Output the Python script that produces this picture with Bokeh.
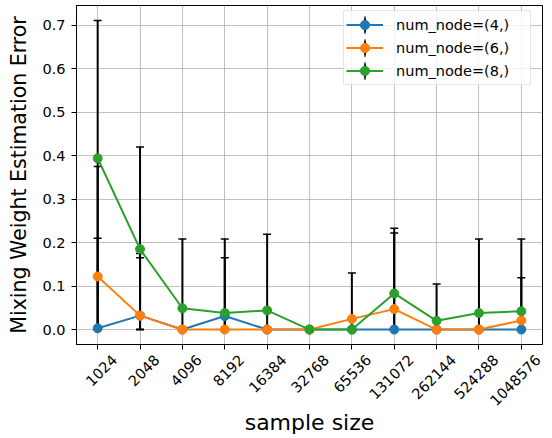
import math
from bokeh.plotting import figure
from bokeh.models import (ColumnDataSource, FixedTicker, PrintfTickFormatter, Legend,
                          LegendItem, Range1d, LinearAxis)
from bokeh.embed import file_html
from bokeh.resources import INLINE

sample_sizes = ["1024", "2048", "4096", "8192", "16384", "32768", "65536",
                "131072", "262144", "524288", "1048576"]

labels = ["num_node=(4,)", "num_node=(6,)", "num_node=(8,)"]
colors = ["#1f77b4", "#ff7f0e", "#2ca02c"]

mean_4 = [0.003, 0.032, 0.0, 0.031, 0.0, 0.0, 0.0, 0.0, 0.0, 0.0, 0.0]
mean_6 = [0.122, 0.032, 0.0, 0.0, 0.0, 0.0, 0.0245, 0.047, 0.0, 0.0, 0.021]
mean_8 = [0.394, 0.185, 0.049, 0.038, 0.044, 0.0, 0.0, 0.083, 0.020, 0.038, 0.042]

upper_4 = [0.210, 0.165, 0.0, 0.165, 0.0, 0.0, 0.0, 0.0, 0.0, 0.0, 0.0]
upper_6 = [0.375, 0.175, 0.0, 0.0, 0.0, 0.0, 0.130, 0.222, 0.0, 0.0, 0.119]
upper_8 = [0.711, 0.420, 0.208, 0.208, 0.219, 0.0, 0.0, 0.233, 0.105, 0.208, 0.208]

lower_4 = [0.0] * 11
lower_6 = [0.0] * 11
lower_8 = [0.0] * 11

y_ticks = [0.0, 0.1, 0.2, 0.3, 0.4, 0.5, 0.6, 0.7]

FONT = "DejaVu Sans"
TICK_FS = "14.5px"

xs = list(range(len(sample_sizes)))
shift = 0.40  # centre the rotated labels on their ticks

p = figure(width=552, height=438, output_backend="svg", toolbar_location=None,
           x_range=Range1d(-0.5, 10.5), y_range=Range1d(-0.0344, 0.7454),
           min_border_left=76, min_border_right=10, min_border_top=5, min_border_bottom=93)
p.extra_x_ranges = {"lab": Range1d(-0.5 - shift, 10.5 - shift)}

# primary x axis: tick marks only
xa = p.xaxis[0]
xa.ticker = FixedTicker(ticks=xs)
xa.major_label_overrides = {i: "" for i in xs}
xa.major_label_text_font_size = "0px"
xa.major_label_standoff = 0
xa.axis_line_color = "black"
xa.major_tick_line_color = "black"
xa.minor_tick_line_color = None
xa.major_tick_out = 5
xa.major_tick_in = 0

# secondary x axis: labels only
lab_axis = LinearAxis(x_range_name="lab", ticker=FixedTicker(ticks=xs))
lab_axis.major_label_overrides = {i: s for i, s in enumerate(sample_sizes)}
lab_axis.major_label_orientation = math.pi / 4
lab_axis.axis_line_color = None
lab_axis.major_tick_line_color = None
lab_axis.minor_tick_line_color = None
lab_axis.major_tick_out = 0
lab_axis.major_tick_in = 0
lab_axis.major_label_standoff = 8
lab_axis.major_label_text_font = FONT
lab_axis.major_label_text_font_size = TICK_FS
lab_axis.major_label_text_color = "black"
lab_axis.axis_label = "sample size"
lab_axis.axis_label_text_font = FONT
lab_axis.axis_label_text_font_size = "22px"
lab_axis.axis_label_text_font_style = "normal"
lab_axis.axis_label_text_color = "black"
lab_axis.axis_label_standoff = -3
p.add_layout(lab_axis, "below")

ya = p.yaxis[0]
ya.ticker = FixedTicker(ticks=y_ticks)
ya.formatter = PrintfTickFormatter(format="%.1f")
ya.axis_line_color = "black"
ya.major_tick_line_color = "black"
ya.minor_tick_line_color = None
ya.major_tick_out = 5
ya.major_tick_in = 0
ya.major_label_standoff = 6
ya.major_label_text_font = FONT
ya.major_label_text_font_size = TICK_FS
ya.major_label_text_color = "black"
ya.axis_label = "Mixing Weight Estimation Error"
ya.axis_label_text_font = FONT
ya.axis_label_text_font_size = "20.5px"
ya.axis_label_text_font_style = "normal"
ya.axis_label_text_color = "black"
ya.axis_label_standoff = 8

p.outline_line_color = "black"
p.outline_line_width = 1
p.xgrid.grid_line_color = "#b0b0b0"
p.ygrid.grid_line_color = "#b0b0b0"
p.xgrid.grid_line_width = 0.8
p.ygrid.grid_line_width = 0.8
p.background_fill_color = "white"
p.border_fill_color = "white"

means = [mean_4, mean_6, mean_8]
uppers = [upper_4, upper_6, upper_8]
lowers = [lower_4, lower_6, lower_8]

# error bars (drawn first, under the markers)
for m, u, l in zip(means, uppers, lowers):
    bx, bl, bu = [], [], []
    for i in xs:
        if u[i] > m[i]:
            bx.append(i)
            bl.append(l[i])
            bu.append(u[i])
    src = ColumnDataSource(dict(x=bx, lo=bl, hi=bu))
    p.segment(x0="x", y0="lo", x1="x", y1="hi", source=src, line_color="black", line_width=2)
    p.scatter(x="x", y="hi", source=src, marker="dash", size=8, line_color="black", line_width=1.5)
    p.scatter(x="x", y="lo", source=src, marker="dash", size=8, line_color="black", line_width=1.5)

items = []
for lab, col, m in zip(labels, colors, means):
    src = ColumnDataSource(dict(x=xs, y=m))
    # thin vertical bar used only as the legend's error-bar symbol
    dummy = p.ellipse(x=[-10], y=[0], width=2, height=16, width_units="screen",
                      height_units="screen", fill_color="black", line_color=None)
    lr = p.line(x="x", y="y", source=src, line_color=col, line_width=2)
    sr = p.scatter(x="x", y="y", source=src, marker="circle", size=9,
                   fill_color=col, line_color=col)
    items.append(LegendItem(label=lab, renderers=[dummy, lr, sr]))

legend = Legend(items=items, location=(267, 259))
legend.label_text_font = FONT
legend.label_text_font_size = TICK_FS
legend.label_text_color = "black"
legend.border_line_color = "#cccccc"
legend.border_line_width = 1
legend.background_fill_alpha = 0.8
legend.glyph_width = 37
legend.glyph_height = 23
legend.label_height = 23
legend.label_width = 132
legend.spacing = 0
legend.padding = 2
legend.margin = 0
legend.label_standoff = 13
p.add_layout(legend)

open("out.html", "w").write(file_html(p, INLINE))
